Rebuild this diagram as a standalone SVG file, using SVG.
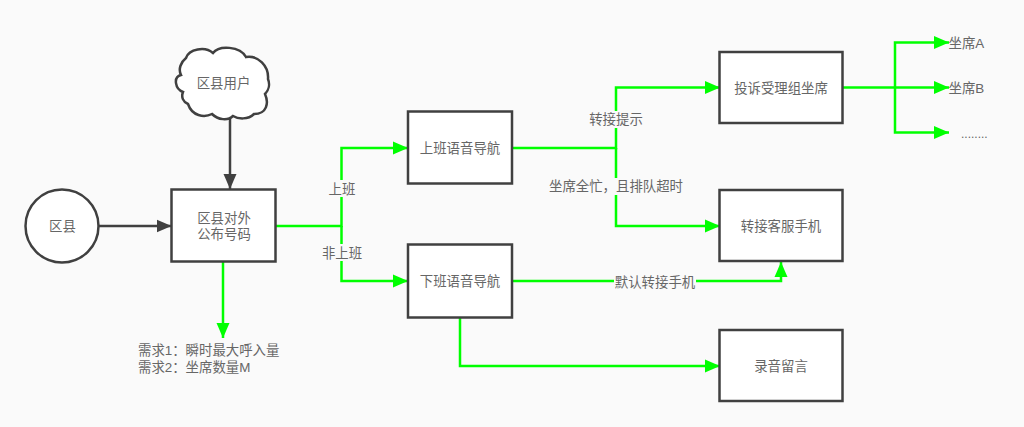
<svg xmlns="http://www.w3.org/2000/svg" width="1024" height="427" viewBox="0 0 1024 427">
<style>
text{font-family:"Liberation Sans","Noto Sans CJK SC",sans-serif;font-size:13.4px;fill:#666;text-anchor:middle}
.s{text-anchor:start}
.b{fill:#fff;stroke:#404040;stroke-width:2.500}
.d{fill:none;stroke:#404040;stroke-width:2.500}
.g{fill:none;stroke:#00ff00;stroke-width:2.500}
.l{fill:#fafafa;stroke:none}
</style>
<defs>
<marker id="ag" markerUnits="userSpaceOnUse" markerWidth="16" markerHeight="14" refX="15" refY="7" orient="auto"><path d="M0 0.500L15 7L0 13.500z" fill="#00ff00"/></marker>
<marker id="ad" markerUnits="userSpaceOnUse" markerWidth="16" markerHeight="14" refX="15" refY="7" orient="auto"><path d="M0 0.500L15 7L0 13.500z" fill="#404040"/></marker>
</defs>
<rect width="1024" height="427" fill="#fafafa"/>
<g id="connectors">
<path class="d" d="M99 226H171.500" marker-end="url(#ad)"/>
<path class="d" d="M230 118V189" marker-end="url(#ad)"/>
<path class="g" d="M276 226H341.500V148H408" marker-end="url(#ag)"/>
<path class="g" d="M341.500 226V281H408" marker-end="url(#ag)"/>
<path class="g" d="M223 262V338" marker-end="url(#ag)"/>
<path class="g" d="M513 148H616V87.500H720" marker-end="url(#ag)"/>
<path class="g" d="M616 148V226H720" marker-end="url(#ag)"/>
<path class="g" d="M513 281H781V262" marker-end="url(#ag)"/>
<path class="g" d="M460 318V366H720" marker-end="url(#ag)"/>
<path class="g" d="M843 87.500H949" marker-end="url(#ag)"/>
<path class="g" d="M895 87.500V42.500H949" marker-end="url(#ag)"/>
<path class="g" d="M895 87.500V132.500H949" marker-end="url(#ag)"/>
</g>
<g id="edge-labels">
<rect class="l" x="328" y="180" width="28" height="17"/><text x="342" y="194">上班</text>
<rect class="l" x="321" y="244" width="41" height="17"/><text x="342" y="258">非上班</text>
<rect class="l" x="589" y="111" width="54" height="17"/><text x="616" y="124">转接提示</text>
<rect class="l" x="548" y="178" width="135" height="17"/><text x="616" y="191">坐席全忙，且排队超时</text>
<rect class="l" x="614" y="273" width="82" height="17"/><text x="655" y="287">默认转接手机</text>
</g>
<g id="node-quyu"><circle class="b" cx="62" cy="226" r="36.500"/><text x="62.500" y="231">区县</text></g>
<g id="node-user"><path class="b" d="M186 58C189 49 205 46 213 53C219 45 240 46 246 57C258 55 269 66 268 79C270 84 269 90 265 94C269 103 267 114 254 114C248 120 238 119 233 116C228 121 218 120 212 114C204 118 192 116 188 104C183 102 181 97 183 92C175 89 173 77 181 75C178 69 181 62 186 58Z"/><text x="223.500" y="88">区县用户</text></g>
<g id="node-pub"><rect class="b" x="171.500" y="189.500" width="104" height="72"/><text x="224" y="223">区县对外</text><text x="224" y="239">公布号码</text></g>
<g id="node-on"><rect class="b" x="408" y="111.500" width="104" height="72"/><text x="460" y="153">上班语音导航</text></g>
<g id="node-off"><rect class="b" x="408" y="244.500" width="104" height="73"/><text x="460" y="286">下班语音导航</text></g>
<g id="node-comp"><rect class="b" x="719.500" y="52" width="123" height="71"/><text x="781" y="93">投诉受理组坐席</text></g>
<g id="node-mobile"><rect class="b" x="719.500" y="190" width="123" height="71"/><text x="781" y="231">转接客服手机</text></g>
<g id="node-rec"><rect class="b" x="719.500" y="330" width="123" height="71"/><text x="781" y="371">录音留言</text></g>
<g id="node-req"><text class="s" x="138" y="355">需求1：瞬时最大呼入量</text><text class="s" x="138" y="372">需求2：坐席数量M</text></g>
<g id="node-a"><text class="s" x="948.500" y="48">坐席A</text></g>
<g id="node-b"><text class="s" x="948.500" y="93">坐席B</text></g>
<g id="node-c"><text class="s" x="961" y="138" style="font-size:12px">........</text></g>
</svg>
